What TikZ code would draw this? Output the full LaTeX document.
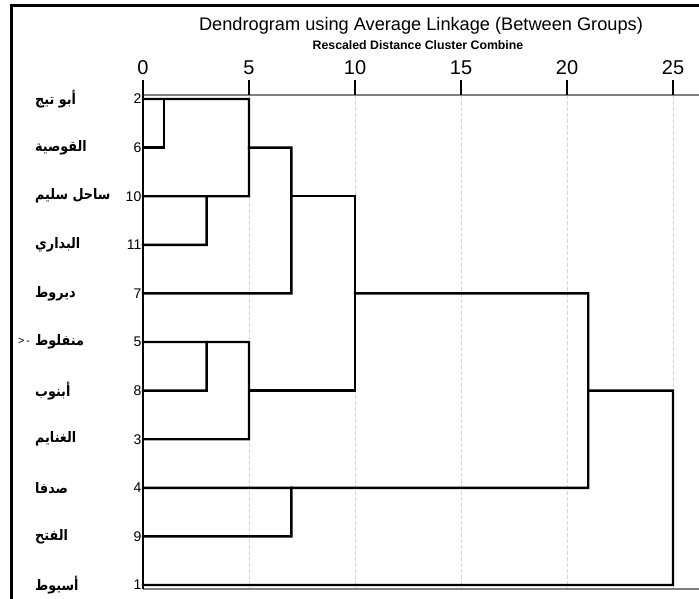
\documentclass[tikz,border=0pt]{standalone}
\usepackage{fontspec}
\usepackage{graphicx}
\setmainfont{Liberation Sans}
\newfontfamily\arabicfont[Script=Arabic]{DejaVu Sans}
\TeXXeTstate=1
\definecolor{gridgrey}{HTML}{D4D4D4}
\definecolor{axisgrey}{HTML}{808080}
\newcommand{\arname}[1]{\scalebox{0.88}[1]{\arabicfont\bfseries\fontsize{14.5}{15}\selectfont\beginR #1\endR}}
\tikzset{
  link/.style={line width=2.4pt, black, line join=miter, line cap=rect},
  gridline/.style={gridgrey, dashed, line width=0.8pt, dash pattern=on 4pt off 2pt},
  axisline/.style={axisgrey, line width=1.6pt},
  leafnum/.style={anchor=east, inner sep=0pt, font=\fontsize{14}{14}\selectfont},
  leafname/.style={anchor=west, inner sep=0pt},
  scalenum/.style={inner sep=0pt, font=\fontsize{20}{20}\selectfont},
}
\begin{document}
\begin{tikzpicture}[x=1pt,y=-1pt]
\useasboundingbox (0,0) rectangle (699,599);
% frame (clipped)
\draw[line width=3.5pt] (11.5,599) -- (11.5,5.5) -- (699,5.5);
% titles
\node[inner sep=0pt, font=\fontsize{18.2}{19}\selectfont] (title) at (421,26) {Dendrogram using Average Linkage (Between Groups)};
\node[inner sep=0pt, font=\bfseries\fontsize{12.3}{13}\selectfont] (subtitle) at (418,45) {Rescaled Distance Cluster Combine};
% grid
\foreach \v in {5,10,15,20,25}{
  \draw[gridline] ({143+21.2*\v},95) -- ({143+21.2*\v},589);
}
% axes
\draw[axisline] (143,95) -- (699,95);
\draw[axisline] (143,589) -- (699,589);
\draw[black, line width=1.2pt] (143,80) -- (143,589);
\foreach \v in {0,5,10,15,20,25}{
  \draw[black, line width=1.3pt] ({143+21.2*\v},80) -- ({143+21.2*\v},95);
  \node[scalenum] (t\v) at ({143+21.2*\v},68) {\v};
}
% leaves
\foreach \n/\nm/\i in {2/أبو تيج/0, 6/القوصية/1, 10/ساحل سليم/2, 11/البداري/3, 7/ديروط/4, 5/منفلوط/5, 8/أبنوب/6, 3/الغنايم/7, 4/صدفا/8, 9/الفتح/9, 1/أسيوط/10}{
  \pgfmathsetmacro\yy{99+48.6*\i}
  \node[leafnum] (n\n) at (141.5,\yy) {\n};
  \node[leafname] (a\n) at (35,\yy) {\arname{\nm}};
  \coordinate (s\n) at (143,\yy);
}
\node[inner sep=0pt, font=\fontsize{11}{11}\selectfont, anchor=west] (mark) at (18,341) {>\,-};
% merge points
\coordinate (m26) at (164.2,99);
\coordinate (m26b) at (164.2,147.6);
\coordinate (m1011) at (206.6,196.2);
\coordinate (m1011b) at (206.6,244.8);
\coordinate (mA) at (249,99);
\coordinate (mAb) at (249,196.2);
\coordinate (oA) at (249,147.6);
\coordinate (mB) at (291.4,147.6);
\coordinate (mBb) at (291.4,293.4);
\coordinate (oB) at (291.4,196.2);
\coordinate (m58) at (206.6,342);
\coordinate (m58b) at (206.6,390.6);
\coordinate (mC) at (249,342);
\coordinate (mCb) at (249,439.2);
\coordinate (oC) at (249,390.6);
\coordinate (mD) at (355,196.2);
\coordinate (mDb) at (355,390.6);
\coordinate (oD) at (355,293.4);
\coordinate (m49) at (291.4,487.8);
\coordinate (m49b) at (291.4,536.4);
\coordinate (mE) at (588.2,293.4);
\coordinate (mEb) at (588.2,487.8);
\coordinate (oE) at (588.2,390.6);
\coordinate (mF) at (673,390.6);
\coordinate (mFb) at (673,585);
% links
\draw[link] (s2) -- (mA) -- (mAb) -- (s10);
\draw[link] (s6) -- (m26b) -- (m26);
\draw[link] (s11) -- (m1011b) -- (m1011);
\draw[link] (oA) -- (mB) -- (mBb) -- (s7);
\draw[link] (oB) -- (mD) -- (mDb) -- (oC);
\draw[link] (s5) -- (mC) -- (mCb) -- (s3);
\draw[link] (s8) -- (m58b) -- (m58);
\draw[link] (oD) -- (mE) -- (mEb) -- (s4);
\draw[link] (s9) -- (m49b) -- (m49);
\draw[link] (oE) -- (mF) -- (mFb) -- (s1);
\end{tikzpicture}
\end{document}
